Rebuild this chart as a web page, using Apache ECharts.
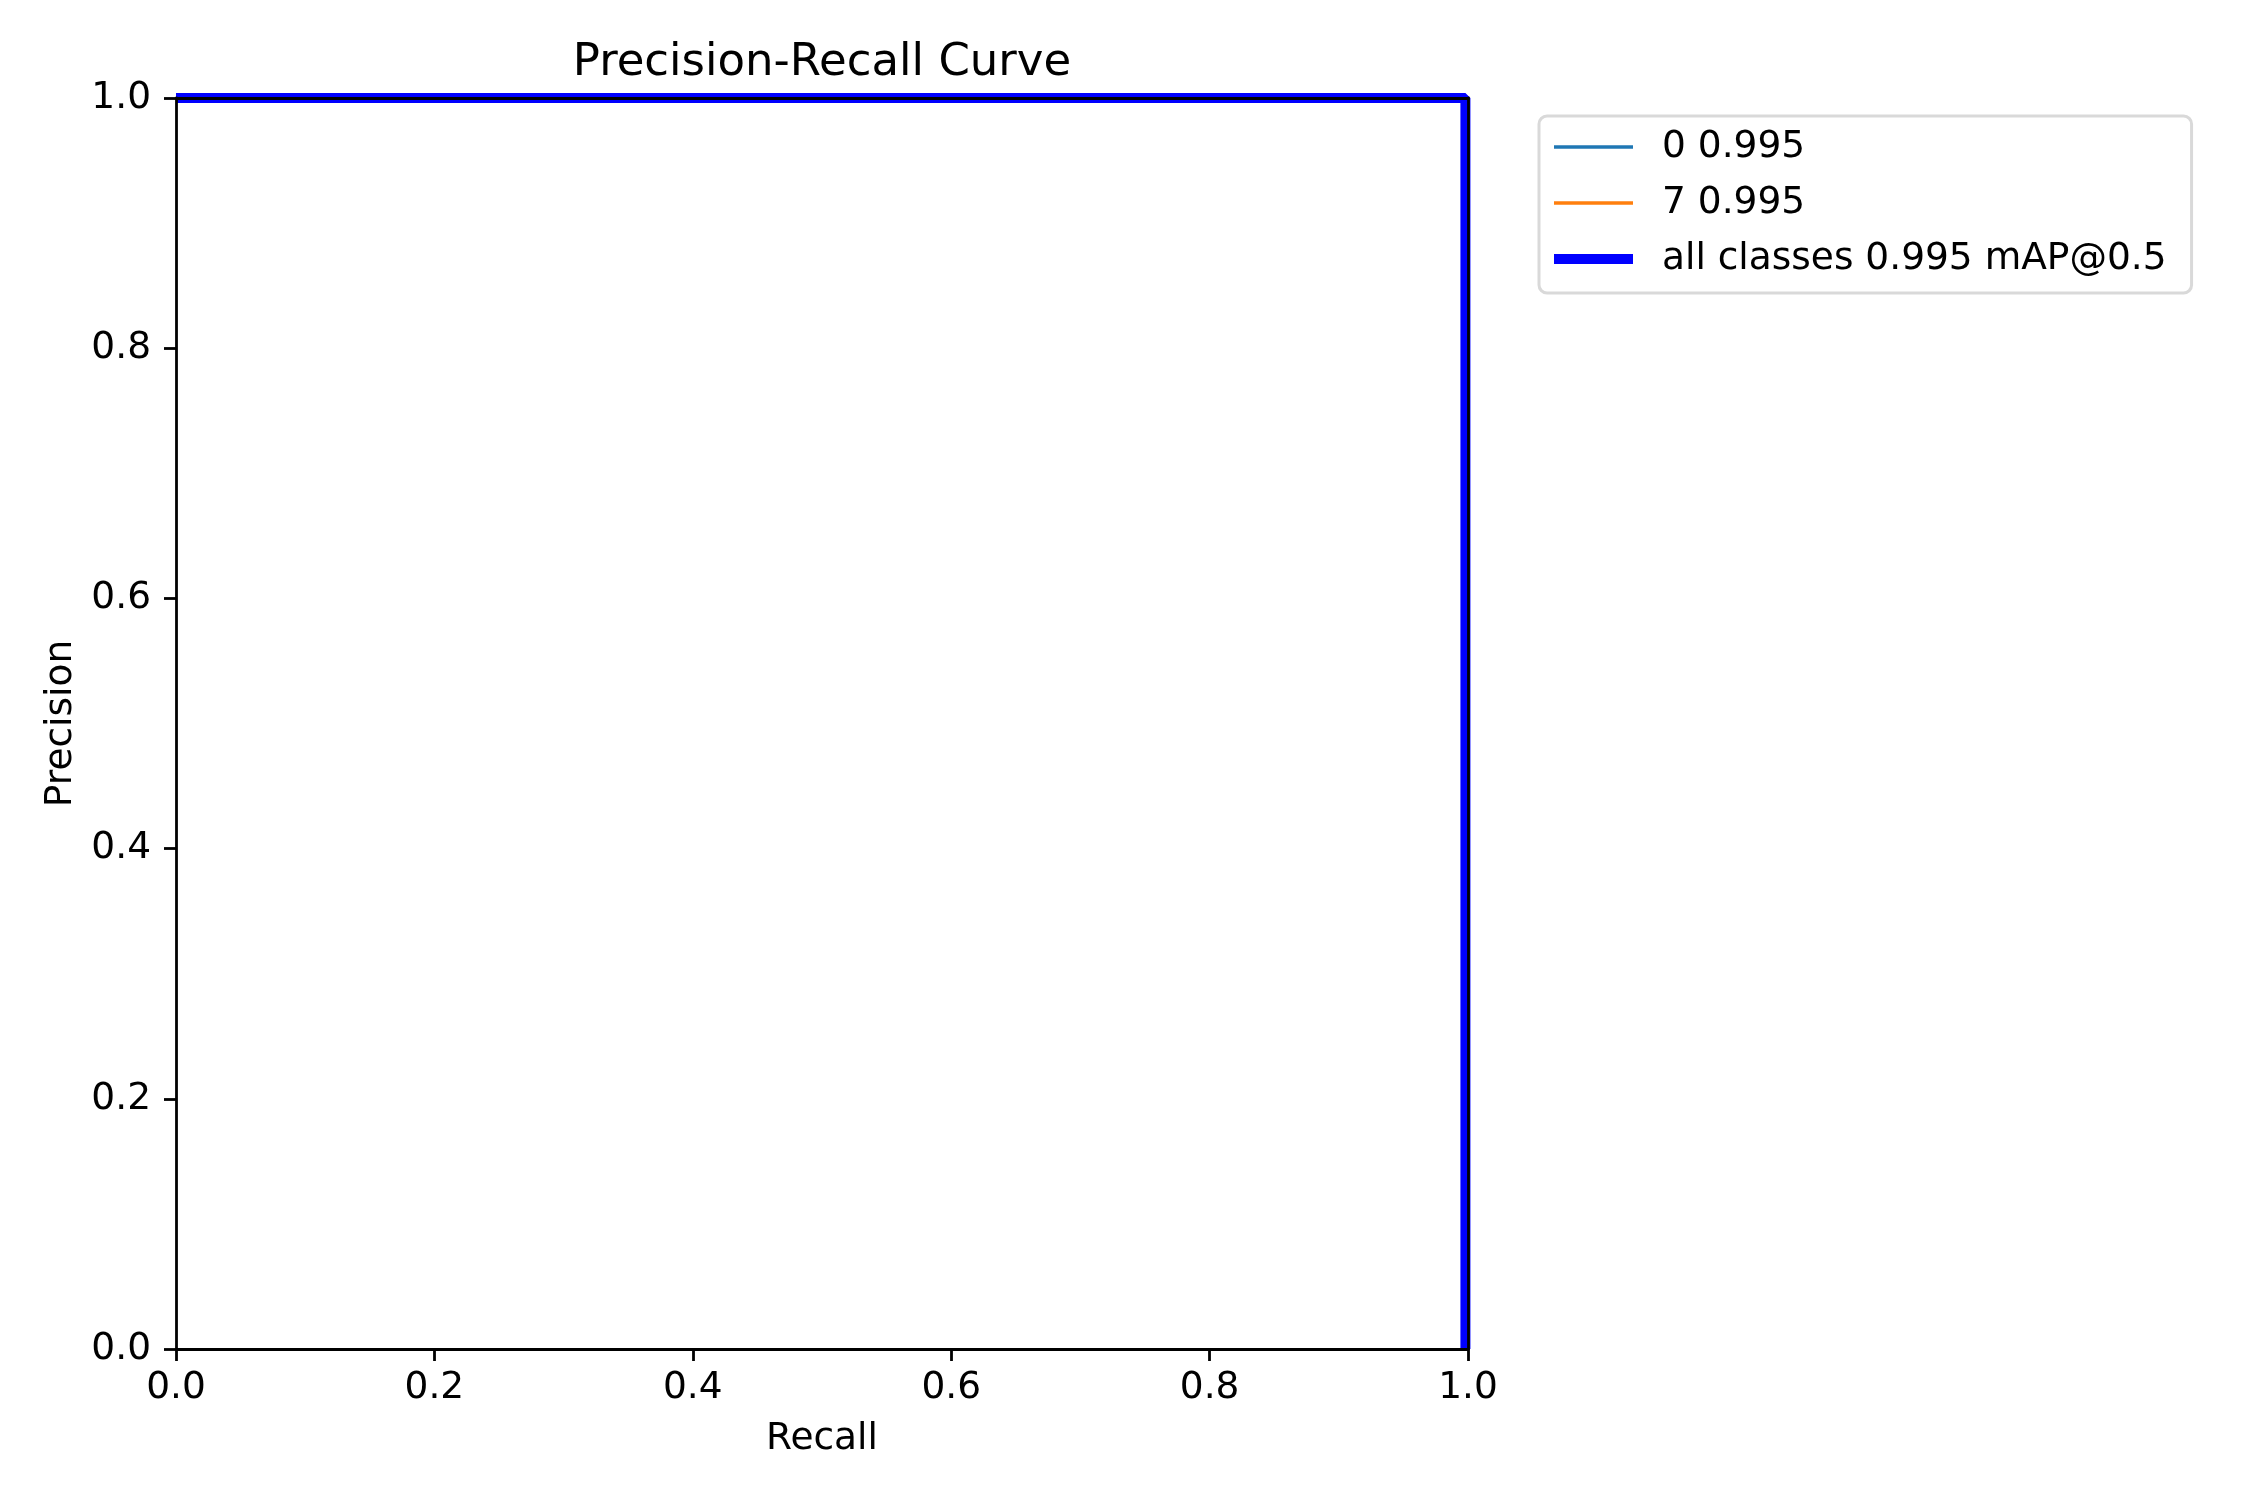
<!DOCTYPE html>
<html lang="en">
<head>
    <meta charset="UTF-8">
    <title>Precision-Recall Curve</title>
    <script src="https://cdn.jsdelivr.net/npm/echarts@6/dist/echarts.min.js"></script>
    <style>
        body { margin: 0; background: #fff; }
    </style>
</head>
<body>
    <div id="main" style="width: 2250px; height: 1500px;"></div>
    <script>
        // values
        const recall = [0, 0.998, 0.998];
        const precisionClass0 = [1, 1, 0];
        const precisionClass7 = [1, 1, 0];
        const precisionAll = [1, 1, 0];
        const seriesNames = ['0 0.995', '7 0.995', 'all classes 0.995 mAP@0.5'];

        const font = 'DejaVu Sans';
        const spine = 2.8;
        const textSize = 37.5;

        function pairs(xs, ys) {
            return xs.map((x, i) => [x, ys[i]]);
        }

        const chart = echarts.init(document.getElementById('main'));

        const valueAxis = {
            type: 'value',
            min: 0,
            max: 1,
            interval: 0.2,
            z: 10,
            splitLine: { show: false },
            axisLine: { show: true, onZero: false, lineStyle: { color: '#000', width: spine } },
            axisTick: { show: true, length: 12, lineStyle: { color: '#000', width: spine } },
            axisLabel: {
                color: '#000',
                fontFamily: font,
                fontSize: textSize,
                formatter: v => v.toFixed(1)
            },
            nameLocation: 'middle',
            nameTextStyle: { color: '#000', fontFamily: font, fontSize: textSize }
        };

        const frameAxis = {
            type: 'value',
            min: 0,
            max: 1,
            z: 10,
            splitLine: { show: false },
            axisLine: { show: true, onZero: false, lineStyle: { color: '#000', width: spine } },
            axisTick: { show: false },
            axisLabel: { show: false }
        };

        const option = {
            backgroundColor: '#fff',
            animation: false,
            title: {
                text: 'Precision-Recall Curve',
                left: 822,
                top: 41,
                textAlign: 'center',
                padding: 0,
                textStyle: { color: '#000', fontFamily: font, fontSize: 45, fontWeight: 'normal' }
            },
            grid: { left: 176, top: 98, width: 1292, height: 1251 },
            legend: {
                orient: 'vertical',
                left: 1539,
                top: 116,
                padding: [12, 25, 15, 10],
                itemWidth: 79,
                itemHeight: 37,
                itemGap: 18,
                backgroundColor: '#fff',
                borderColor: '#d9d9d9',
                borderWidth: 3,
                borderRadius: 8,
                itemStyle: { opacity: 0 },
                textStyle: {
                    color: '#000',
                    fontFamily: font,
                    fontSize: textSize,
                    padding: [0, 0, 0, 24]
                },
                data: [
                    { name: seriesNames[0], lineStyle: { color: '#1f77b4', width: 3.5 } },
                    { name: seriesNames[1], lineStyle: { color: '#ff7f0e', width: 3.5 } },
                    { name: seriesNames[2], lineStyle: { color: '#0000ff', width: 10 } }
                ]
            },
            xAxis: [
                Object.assign({}, valueAxis, {
                    position: 'bottom',
                    name: 'Recall',
                    nameGap: 71,
                    axisLabel: Object.assign({}, valueAxis.axisLabel, { margin: 20 })
                }),
                Object.assign({}, frameAxis, { position: 'top' })
            ],
            yAxis: [
                Object.assign({}, valueAxis, {
                    position: 'left',
                    name: 'Precision',
                    nameGap: 89,
                    axisLabel: Object.assign({}, valueAxis.axisLabel, { margin: 25, padding: [5, 0, 0, 0] })
                }),
                Object.assign({}, frameAxis, { position: 'right' })
            ],
            series: [
                {
                    name: seriesNames[0],
                    type: 'line',
                    data: pairs(recall, precisionClass0),
                    showSymbol: false,
                    symbol: 'none',
                    clip: true,
                    lineStyle: { color: '#1f77b4', width: 3.5 },
                    itemStyle: { color: '#1f77b4' }
                },
                {
                    name: seriesNames[1],
                    type: 'line',
                    data: pairs(recall, precisionClass7),
                    showSymbol: false,
                    symbol: 'none',
                    clip: true,
                    lineStyle: { color: '#ff7f0e', width: 3.5 },
                    itemStyle: { color: '#ff7f0e' }
                },
                {
                    name: seriesNames[2],
                    type: 'line',
                    data: pairs(recall, precisionAll),
                    showSymbol: false,
                    symbol: 'none',
                    clip: true,
                    lineStyle: { color: '#0000ff', width: 10 },
                    itemStyle: { color: '#0000ff' }
                }
            ]
        };

        chart.setOption(option);
    </script>
</body>
</html>
